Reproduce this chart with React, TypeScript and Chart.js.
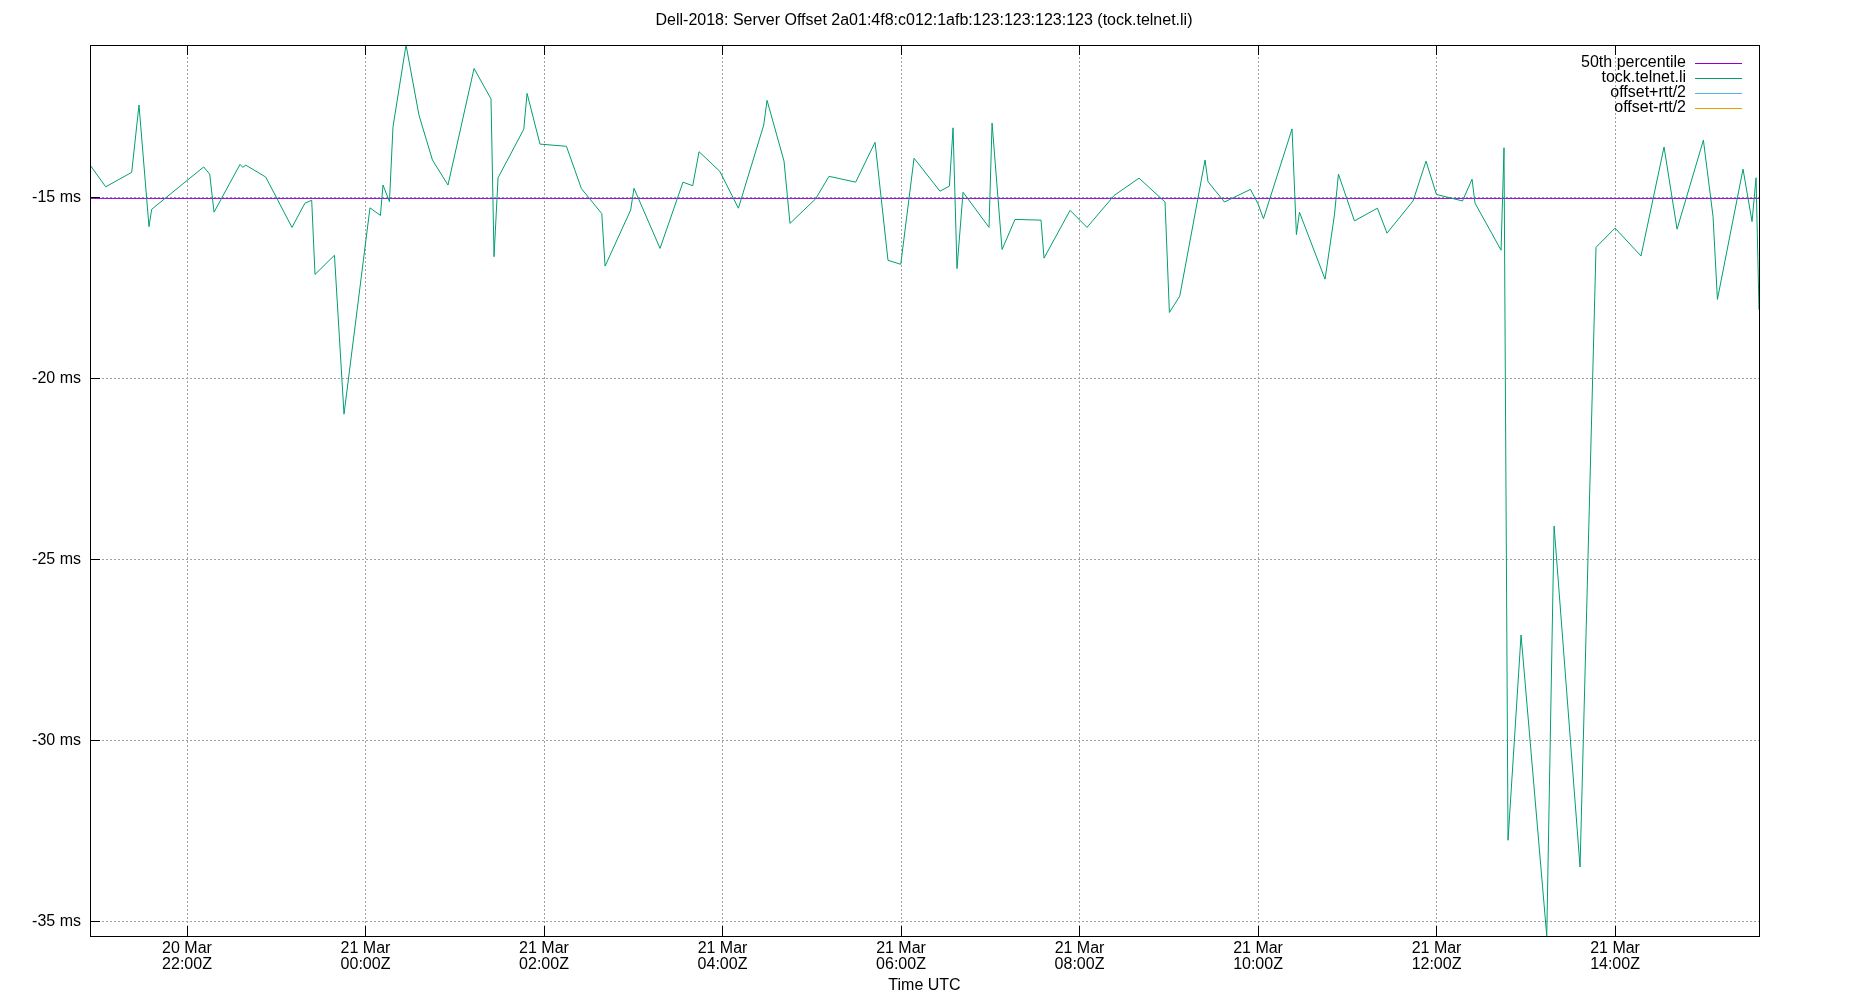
import React, { useEffect, useRef } from 'react';
import { Chart, registerables } from 'chart.js';

Chart.register(...registerables);

const TITLE = 'Dell-2018: Server Offset 2a01:4f8:c012:1afb:123:123:123:123 (tock.telnet.li)';
const X_TITLE = 'Time UTC';

// hours since 20 Mar 00:00Z
const hours = [
  20.915, 21.089, 21.380, 21.462, 21.574, 21.604, 22.187, 22.254, 22.303, 22.594,
  22.624, 22.658, 22.882, 23.176, 23.322, 23.397, 23.434, 23.652, 23.759, 24.050,
  24.167, 24.196, 24.268, 24.308, 24.454, 24.599, 24.750, 24.924, 25.216, 25.406,
  25.440, 25.485, 25.773, 25.810, 25.955, 26.251, 26.419, 26.647, 26.684, 26.971,
  27.008, 27.300, 27.557, 27.666, 27.737, 27.969, 28.178, 28.462, 28.499, 28.689,
  28.756, 29.044, 29.193, 29.492, 29.709, 29.854, 29.997, 30.146, 30.437, 30.542,
  30.583, 30.627, 30.695, 30.986, 31.020, 31.132, 31.277, 31.569, 31.602, 31.894,
  32.084, 32.387, 32.667, 32.958, 33.007, 33.123, 33.406, 33.440, 33.624, 33.915,
  34.000, 34.061, 34.381, 34.430, 34.464, 34.751, 34.856, 34.901, 35.080, 35.338,
  35.445, 35.737, 35.882, 35.999, 36.291, 36.398, 36.431, 36.723, 36.756, 36.801,
  36.947, 37.235, 37.317, 37.608, 37.787, 38.000, 38.291, 38.549, 38.695, 38.990,
  39.098, 39.147, 39.434, 39.535, 39.580, 39.613,
];

// offset in ms
const offsets = [
  -14.10, -14.70, -14.30, -12.44, -15.80, -15.32, -14.15, -14.35, -15.40, -14.08,
  -14.16, -14.10, -14.43, -15.82, -15.15, -15.07, -17.12, -16.59, -20.98, -15.28,
  -15.49, -14.65, -15.11, -13.04, -10.78, -12.72, -13.96, -14.65, -11.43, -12.27,
  -16.63, -14.45, -13.11, -12.12, -13.52, -13.58, -14.75, -15.44, -16.89, -15.34,
  -14.74, -16.40, -14.57, -14.67, -13.73, -14.27, -15.29, -12.99, -12.31, -13.99,
  -15.71, -15.03, -14.41, -14.57, -13.47, -16.73, -16.84, -13.91, -14.82, -14.68,
  -13.07, -16.96, -14.85, -15.82, -12.94, -16.43, -15.60, -15.62, -16.67, -15.35,
  -15.82, -14.94, -14.46, -15.12, -18.17, -17.72, -13.96, -14.56, -15.12, -14.77,
  -15.17, -15.58, -13.10, -16.02, -15.40, -17.25, -15.48, -14.35, -15.64, -15.29,
  -15.98, -15.09, -13.99, -14.91, -15.09, -14.49, -15.15, -16.45, -13.62, -32.75,
  -27.08, -35.39, -24.07, -33.49, -16.37, -15.84, -16.61, -13.60, -15.87, -13.41,
  -15.52, -17.81, -14.21, -15.66, -14.45, -18.10,
];

const percentile50 = -15.02;

const xTickHours = [22, 24, 26, 28, 30, 32, 34, 36, 38];
const xTickDates = ['20 Mar', '21 Mar', '21 Mar', '21 Mar', '21 Mar', '21 Mar', '21 Mar', '21 Mar', '21 Mar'];
const xTickTimes = ['22:00Z', '00:00Z', '02:00Z', '04:00Z', '06:00Z', '08:00Z', '10:00Z', '12:00Z', '14:00Z'];
const yTicks = [-35, -30, -25, -20, -15];

const X_MIN = 20.913;
const X_MAX = 39.613;
const Y_MIN = -35.395;
const Y_MAX = -10.782;

const seriesLabels = ['50th percentile', 'tock.telnet.li', 'offset+rtt/2', 'offset-rtt/2'];
const seriesColors = ['#9400d3', '#009e73', '#56b4e9', '#e69f00'];

const FONT = '"Liberation Sans", Arial, sans-serif';

const gnuplotDecor = {
  id: 'gnuplotDecor',
  afterDraw(chart: any) {
    const ctx = chart.ctx as CanvasRenderingContext2D;
    const { left, top, right, bottom } = chart.chartArea;
    const xs = chart.scales.x;
    const ys = chart.scales.y;
    const al = (p: number) => Math.round(p - 0.5) + 0.5;
    ctx.save();
    // border + inward ticks
    ctx.strokeStyle = '#000';
    ctx.lineWidth = 1;
    ctx.setLineDash([]);
    ctx.beginPath();
    xTickHours.forEach((h) => {
      const px = al(xs.getPixelForValue(h));
      ctx.moveTo(px, bottom);
      ctx.lineTo(px, bottom - 10);
      ctx.moveTo(px, top);
      ctx.lineTo(px, top + 10);
    });
    yTicks.forEach((v) => {
      const py = al(ys.getPixelForValue(v));
      ctx.moveTo(left, py);
      ctx.lineTo(left + 10, py);
    });
    ctx.stroke();
    ctx.strokeRect(left + 0.5, top + 0.5, right - left, bottom - top);

    // title
    ctx.fillStyle = '#000';
    ctx.font = `16px ${FONT}`;
    ctx.textAlign = 'center';
    ctx.textBaseline = 'middle';
    ctx.fillText(TITLE, 924, 21);

    // legend (gnuplot style: text right-aligned, sample on the right)
    ctx.textAlign = 'right';
    chart.data.datasets.forEach((ds: any, i: number) => {
      const y = 63 + i * 15.1;
      ctx.fillStyle = '#000';
      ctx.fillText(ds.label, right - 73, y - 0.5);
      ctx.strokeStyle = ds.borderColor;
      ctx.lineWidth = 1;
      ctx.beginPath();
      ctx.moveTo(right - 64, Math.round(y) + 0.5);
      ctx.lineTo(right - 17, Math.round(y) + 0.5);
      ctx.stroke();
    });
    ctx.restore();
  },
};

export default function App() {
  const ref = useRef<HTMLCanvasElement | null>(null);

  useEffect(() => {
    document.body.style.margin = '0';
    Chart.defaults.font.family = FONT;
    const canvas = ref.current;
    if (!canvas) return;

    const greenData = hours.map((h, i) => ({ x: h, y: offsets[i] }));
    const medianData = [
      { x: X_MIN, y: percentile50 },
      { x: X_MAX, y: percentile50 },
    ];

    const chart = new Chart(canvas, {
      type: 'line',
      data: {
        datasets: [
          { label: seriesLabels[0], data: medianData, borderColor: seriesColors[0], borderWidth: 1, pointRadius: 0, order: 2 },
          { label: seriesLabels[1], data: greenData, borderColor: seriesColors[1], borderWidth: 1, pointRadius: 0, order: 1 },
          { label: seriesLabels[2], data: [], borderColor: seriesColors[2], borderWidth: 1, pointRadius: 0, order: 3 },
          { label: seriesLabels[3], data: [], borderColor: seriesColors[3], borderWidth: 1, pointRadius: 0, order: 4 },
        ],
      },
      options: {
        animation: false,
        responsive: false,
        devicePixelRatio: 1,
        events: [],
        layout: { padding: { top: 45, right: 91, left: 0, bottom: 0 } },
        elements: { line: { tension: 0 }, point: { radius: 0 } },
        plugins: {
          legend: { display: false },
          title: { display: false },
          tooltip: { enabled: false },
        },
        scales: {
          x: {
            type: 'linear',
            min: X_MIN,
            max: X_MAX,
            afterBuildTicks: (s: any) => {
              s.ticks = xTickHours.map((v) => ({ value: v }));
            },
            afterFit: (s: any) => {
              s.height = 64;
            },
            grid: { color: '#a0a0a0', lineWidth: 1, drawTicks: false },
            border: { display: false, dash: [2, 2] },
            ticks: {
              padding: 5,
              maxRotation: 0,
              autoSkip: false,
              color: '#000',
              font: { size: 16, lineHeight: 1 },
              callback: (v: any) => {
                const i = xTickHours.indexOf(Number(v));
                return i >= 0 ? [xTickDates[i], xTickTimes[i]] : '';
              },
            },
            title: {
              display: true,
              text: X_TITLE,
              color: '#000',
              font: { size: 16, lineHeight: 1.2 },
              padding: { top: 0, bottom: 5 },
            },
          },
          y: {
            type: 'linear',
            min: Y_MIN,
            max: Y_MAX,
            afterBuildTicks: (s: any) => {
              s.ticks = yTicks.map((v) => ({ value: v }));
            },
            afterFit: (s: any) => {
              s.width = 90;
            },
            grid: { color: '#a0a0a0', lineWidth: 1, drawTicks: false },
            border: { display: false, dash: [2, 2] },
            ticks: {
              padding: 9,
              color: '#000',
              font: { size: 16 },
              callback: (v: any) => `${v} ms`,
            },
          },
        },
      },
      plugins: [gnuplotDecor],
    } as any);

    return () => {
      chart.destroy();
    };
  }, []);

  return (
    <div style={{ width: 1850, height: 1000 }}>
      <canvas ref={ref} width={1850} height={1000} style={{ display: 'block' }} />
    </div>
  );
}
